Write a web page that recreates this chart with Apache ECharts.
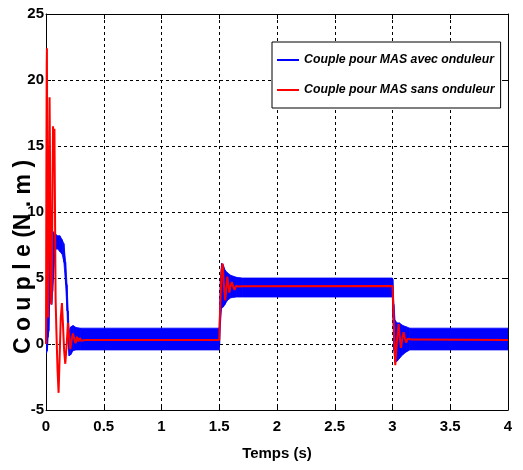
<!DOCTYPE html>
<html><head><meta charset="utf-8">
<script src="https://cdn.jsdelivr.net/npm/echarts@6/dist/echarts.min.js"></script>
<style>html,body{margin:0;padding:0;background:#fff}#c{width:523px;height:470px}</style>
</head><body><div id="c"></div>
<script>
// ---- data ----
const xTicks = [0, 0.5, 1, 1.5, 2, 2.5, 3, 3.5, 4];
const yTicks = [-5, 0, 5, 10, 15, 20, 25];
const seriesNames = ['Couple pour MAS avec onduleur', 'Couple pour MAS sans onduleur'];

// blue (with inverter): envelope of the ripple band
const blueT    = [0, 0.004, 0.012, 0.018, 0.025, 0.031, 0.040, 0.050, 0.058, 0.065, 0.075, 0.085, 0.100, 0.120, 0.140, 0.155, 0.170, 0.182, 0.192, 0.200, 0.215, 0.235, 0.260, 0.300, 1.499, 1.503, 1.510, 1.520, 1.535, 1.550, 1.570, 1.600, 1.650, 1.700, 2.999, 3.003, 3.012, 3.022, 3.040, 3.060, 3.090, 3.120, 3.150, 4.0];
const blueLow  = [0, -0.7, -0.5, 0.5, 1.0, 3.0, 3.2, 3.0, 4.0, 5.0, 6.5, 7.2, 7.2, 7.0, 6.8, 6.2, 4.5, 2.5, 0.0, -0.9, -0.8, -0.5, -0.45, -0.45, -0.45, 0.0, 1.5, 2.7, 2.8, 3.0, 3.3, 3.5, 3.56, 3.56, 3.56, 2.0, -0.5, -1.4, -1.3, -1.1, -0.8, -0.6, -0.45, -0.45];
const blueHigh = [0, 0.5, 1.2, 4.0, 9.0, 9.5, 8.8, 8.0, 8.3, 8.5, 8.3, 8.3, 8.2, 8.2, 7.9, 7.6, 6.2, 4.5, 2.5, 1.0, 1.3, 1.4, 1.25, 1.2, 1.2, 2.5, 5.0, 6.1, 6.0, 5.6, 5.4, 5.2, 5.05, 5.0, 5.0, 4.9, 3.0, 1.8, 1.6, 1.6, 1.4, 1.3, 1.2, 1.2];

// red (without inverter)
const redT = [0, 0.003, 0.006, 0.008, 0.011, 0.014, 0.018, 0.022, 0.027, 0.031, 0.035, 0.040, 0.045, 0.050, 0.056, 0.061, 0.064, 0.068, 0.073, 0.078, 0.083, 0.090, 0.100, 0.109, 0.118, 0.128, 0.138, 0.147, 0.157, 0.167, 0.178, 0.190, 0.200, 0.210, 0.222, 0.233, 0.245, 0.256, 0.268, 0.280, 0.292, 0.305, 0.320, 0.340, 1.500, 1.507, 1.520, 1.529, 1.540, 1.552, 1.562, 1.570, 1.580, 1.587, 1.598, 1.610, 1.622, 1.633, 1.645, 1.656, 1.670, 1.685, 1.700, 3.000, 3.006, 3.015, 3.024, 3.038, 3.053, 3.063, 3.073, 3.085, 3.096, 3.108, 3.119, 3.133, 3.148, 3.160, 3.170, 3.185, 3.200, 4.0];
const redV = [0, 12, 21, 22.4, 12, 5, 2, 6, 14, 18.7, 14, 7, 3, 4, 11, 16.5, 15.5, 15.8, 16.3, 10, 3.5, 1, -2, -3.7, -1, 2, 3.1, 1.5, -0.5, -1.5, -0.2, 1.6, 0.6, -0.4, 0.3, 0.8, 0.4, 0.05, 0.55, 0.2, 0.45, 0.25, 0.35, 0.3, 0.3, 2.5, 5.5, 6.1, 4.5, 3.3, 4.3, 5.1, 4.4, 3.9, 4.4, 4.7, 4.3, 4.1, 4.4, 4.55, 4.35, 4.45, 4.38, 4.4, 3.0, 0.5, -1.6, 0.2, 1.5, 0.5, -0.3, 0.4, 0.9, 0.4, 0.1, 0.4, 0.55, 0.35, 0.25, 0.35, 0.3, 0.3];

// ---- build ----
// each band segment: [t0, low0, high0, t1, low1, high1]
const bandSegs = [];
for (let i = 1; i < blueT.length; i++) {
  bandSegs.push([blueT[i - 1], blueLow[i - 1], blueHigh[i - 1], blueT[i], blueLow[i], blueHigh[i]]);
}
const redData = redT.map((t, i) => [t, redV[i]]);

const FONT = '"Liberation Sans", Arial, sans-serif';
const axisText = { color: '#000', fontFamily: FONT, fontSize: 15, fontWeight: 'bold' };

function renderBand(params, api) {
  const a = api.coord([api.value(0), api.value(1)]);
  const b = api.coord([api.value(0), api.value(2)]);
  const c = api.coord([api.value(3), api.value(5)]);
  const d = api.coord([api.value(3), api.value(4)]);
  return {
    type: 'polygon',
    shape: { points: [a, b, c, d] },
    style: { fill: '#0000ff', stroke: '#0000ff', lineWidth: 0.8 }
  };
}

const chart = echarts.init(document.getElementById('c'), null, { renderer: 'canvas' });
chart.setOption({
  animation: false,
  backgroundColor: '#fff',
  grid: { left: 46, right: 15, top: 14, bottom: 60, outerBoundsMode: 'none', show: false },
  xAxis: [{
    type: 'value', min: xTicks[0], max: xTicks[xTicks.length - 1], interval: 0.5,
    name: 'Temps (s)', nameLocation: 'middle', nameGap: 36,
    nameTextStyle: { color: '#000', fontFamily: FONT, fontSize: 15, fontWeight: 'bold' },
    axisLine: { show: true, onZero: false, lineStyle: { color: '#000', width: 1 } },
    axisTick: { show: true, inside: true, length: 5, lineStyle: { color: '#000' } },
    axisLabel: Object.assign({ margin: 9, formatter: v => String(v) }, axisText),
    splitLine: { show: true, lineStyle: { color: '#000', type: [3, 3], width: 1 } }
  }, {
    type: 'value', position: 'top', min: 0, max: 4, interval: 0.5,
    axisLine: { show: true, onZero: false, lineStyle: { color: '#000', width: 1 } },
    axisTick: { show: true, inside: true, length: 5, lineStyle: { color: '#000' } },
    axisLabel: { show: false }, splitLine: { show: false }
  }],
  yAxis: [{
    type: 'value', min: yTicks[0], max: yTicks[yTicks.length - 1], interval: 5,
    axisLine: { show: true, onZero: false, lineStyle: { color: '#000', width: 1 } },
    axisTick: { show: true, inside: true, length: 5, lineStyle: { color: '#000' } },
    axisLabel: Object.assign({ margin: 2 }, axisText),
    splitLine: { show: true, lineStyle: { color: '#000', type: [3, 3], width: 1 } }
  }, {
    type: 'value', position: 'right', min: -5, max: 25, interval: 5,
    axisLine: { show: true, onZero: false, lineStyle: { color: '#000', width: 1 } },
    axisTick: { show: true, inside: true, length: 5, lineStyle: { color: '#000' } },
    axisLabel: { show: false }, splitLine: { show: false }
  }],
  legend: {
    data: [
      { name: seriesNames[0], itemStyle: { color: '#0000ff' } },
      { name: seriesNames[1], itemStyle: { color: '#ff0000' } }
    ],
    orient: 'vertical', left: 272, top: 42,
    icon: 'rect', itemWidth: 22, itemHeight: 2, itemGap: 10,
    padding: [8, 6, 8, 5], borderColor: '#000', borderWidth: 1, backgroundColor: '#fff',
    selectedMode: false,
    textStyle: { color: '#000', fontFamily: FONT, fontSize: 12.3, fontStyle: 'italic', fontWeight: 'bold', lineHeight: 20 }
  },
  graphic: [{
    type: 'text', x: 24, y: 257, rotation: Math.PI / 2,
    style: { text: 'C o u p l e (N . m )', fill: '#000', font: 'bold 23px "Liberation Sans", Arial, sans-serif', textAlign: 'center', textVerticalAlign: 'middle' }
  }],
  series: [{
    name: seriesNames[0], type: 'custom', renderItem: renderBand, data: bandSegs,
    encode: { x: [0, 3], y: [1, 2, 4, 5] }, color: '#0000ff', silent: true, z: 2, clip: true
  }, {
    name: seriesNames[1], type: 'line', data: redData, symbol: 'none', color: '#ff0000',
    lineStyle: { color: '#ff0000', width: 2 }, z: 3
  }]
});
</script></body></html>
